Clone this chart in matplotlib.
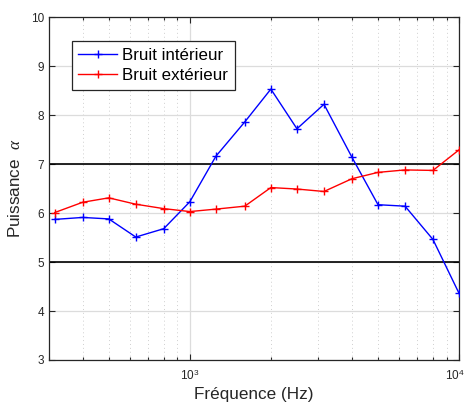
import matplotlib
matplotlib.use("Agg")
import matplotlib.pyplot as plt
from matplotlib.ticker import LogLocator, NullFormatter, FixedLocator, FixedFormatter

plt.rcParams["font.family"] = ["Liberation Sans", "DejaVu Sans"]
plt.rcParams["mathtext.fontset"] = "custom"
plt.rcParams["mathtext.rm"] = "Liberation Sans"
plt.rcParams["mathtext.it"] = "Liberation Serif:italic"

# Third-octave band centre frequencies (Hz)
freqs = [315, 400, 500, 630, 800, 1000, 1250, 1600, 2000, 2500,
         3150, 4000, 5000, 6300, 8000, 10000]
interior = [5.87, 5.91, 5.88, 5.51, 5.68, 6.23, 7.16, 7.86, 8.53, 7.72,
            8.22, 7.14, 6.17, 6.14, 5.46, 4.36]
exterior = [6.01, 6.22, 6.31, 6.18, 6.09, 6.03, 6.08, 6.14, 6.52, 6.49,
            6.44, 6.70, 6.83, 6.88, 6.87, 7.29]
labels = ["Bruit intérieur", "Bruit extérieur"]
bounds = [5, 7]
xticks = [1000, 10000]
xticklabels = [r"$10^{3}$", r"$10^{4}$"]

axcol = "#262626"
fig = plt.figure(figsize=(4.67, 4.07), dpi=100)
ax = fig.add_axes([0.105, 0.1155, 0.878, 0.8425])

ax.set_xscale("log")
ax.set_xlim(300, 10000)
ax.set_ylim(3, 10)

ax.grid(True, which="major", color="#dcdcdc", linewidth=0.9, linestyle="-")
ax.grid(True, which="minor", axis="x", color="#cfcfcf", linewidth=0.7,
        linestyle=(0, (1, 3)))
ax.set_axisbelow(True)

for b in bounds:
    ax.axhline(b, color="black", linewidth=1.2, zorder=2)

ax.plot(freqs, interior, color="#0000ff", marker="+", markersize=6,
        markeredgewidth=1.0, linewidth=1.0, label=labels[0], zorder=3)
ax.plot(freqs, exterior, color="#ff0000", marker="+", markersize=6,
        markeredgewidth=1.0, linewidth=1.0, label=labels[1], zorder=3)

ax.xaxis.set_major_locator(FixedLocator(xticks))
ax.xaxis.set_major_formatter(FixedFormatter([xticklabels[0], ""]))
ax.xaxis.set_minor_locator(LogLocator(base=10, subs=range(2, 10), numticks=20))
ax.xaxis.set_minor_formatter(NullFormatter())
ax.set_yticks(range(3, 11))

ax.tick_params(which="both", direction="in", top=True, right=True,
               colors=axcol, labelsize=8.5, width=0.8)
ax.tick_params(which="major", length=4)
ax.tick_params(which="minor", length=2.5)
ax.tick_params(axis="x", which="major", pad=6)
for s in ax.spines.values():
    s.set_color(axcol)
    s.set_linewidth(0.9)

# last decade label, right-aligned so it stays on the canvas
ax.annotate(xticklabels[1], xy=(xticks[1], 0), xycoords=("data", "axes fraction"),
            xytext=(4, -6), textcoords="offset points", ha="right", va="top",
            fontsize=8.5, color=axcol, annotation_clip=False)

ax.set_xlabel("Fréquence (Hz)", fontsize=12.3, color=axcol, labelpad=3)
ax.set_ylabel(r"Puissance  $\alpha$", fontsize=12.3, color=axcol, labelpad=6)

leg = ax.legend(loc="upper left", bbox_to_anchor=(0.055, 0.93),
                fontsize=12.2, frameon=True, fancybox=False,
                handlelength=2.3, handletextpad=0.3, borderpad=0.4,
                labelspacing=0.3, borderaxespad=0)
leg.get_frame().set_edgecolor(axcol)
leg.get_frame().set_linewidth(0.9)
leg.get_frame().set_alpha(1)

fig.savefig("out.png", dpi=100)
